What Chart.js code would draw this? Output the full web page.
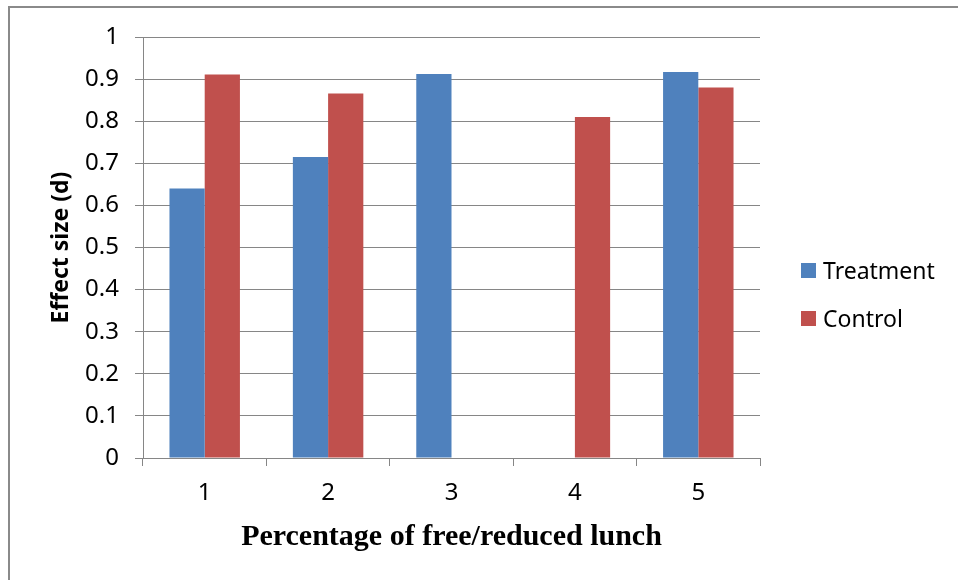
<!DOCTYPE html>
<html>
<head>
<meta charset="utf-8">
<script src="https://cdn.jsdelivr.net/npm/chart.js@4.4.1/dist/chart.umd.min.js"></script>
<style>
  html, body { margin: 0; padding: 0; background: #fff; overflow: hidden; }
  #wrap { position: relative; width: 958px; height: 580px; }
  #frame {
    position: absolute; left: 8px; top: 6px; width: 1000px; height: 1000px;
    border: 2px solid #8a8a8a; pointer-events: none;
  }
  #legend {
    position: absolute; left: 801px; top: 256px;
    font-family: 'Noto Sans', sans-serif; font-size: 23px; color: #000;
  }
  #legend .item { display: flex; align-items: center; height: 28px; margin-bottom: 20px; }
  #legend .box { width: 15px; height: 15px; margin-right: 7px; }
</style>
</head>
<body>
<div id="wrap">
  <canvas id="chart" width="958" height="580"></canvas>
  <div id="legend"></div>
  <div id="frame"></div>
</div>
<script>
// Chart data
const categories = ['1', '2', '3', '4', '5'];
const treatmentValues = [0.64, 0.715, 0.912, null, 0.917];
const controlValues = [0.911, 0.866, null, 0.81, 0.88];

const yTicksMin = 0;
const yTicksMax = 1;
const yTicksStep = 0.1;

const gridColor = '#868686';
const tickFont = { family: "'Noto Sans', sans-serif", size: 24 };

const chart = new Chart(document.getElementById('chart').getContext('2d'), {
    type: 'bar',
    data: {
        labels: categories,
        datasets: [
            {
                label: 'Treatment',
                data: treatmentValues,
                backgroundColor: '#4F81BD',
                barPercentage: 1,
                categoryPercentage: 0.571
            },
            {
                label: 'Control',
                data: controlValues,
                backgroundColor: '#C0504D',
                barPercentage: 1,
                categoryPercentage: 0.571
            }
        ]
    },
    options: {
        responsive: false,
        animation: false,
        layout: { padding: { left: 0, top: 37, right: 198, bottom: 0 } },
        plugins: {
            tooltip: { enabled: false },
            legend: { display: false }
        },
        scales: {
            x: {
                grid: {
                    offset: true,
                    drawOnChartArea: false,
                    tickLength: 8,
                    color: gridColor
                },
                border: { color: gridColor, width: 1 },
                ticks: { color: '#000', font: tickFont, padding: 13 },
                title: {
                    display: true,
                    text: 'Percentage of free/reduced lunch',
                    color: '#000',
                    font: { family: "'Liberation Serif', 'Times New Roman', serif", size: 30, weight: 'bold' },
                    padding: { top: 0, bottom: 25 }
                },
                afterFit: scale => { scale.height = 122; }
            },
            y: {
                min: yTicksMin,
                max: yTicksMax,
                ticks: {
                    stepSize: yTicksStep,
                    color: '#000',
                    font: tickFont,
                    padding: 16,
                    callback: v => String(+v.toFixed(1))
                },
                grid: { color: gridColor, tickLength: 8 },
                border: { color: gridColor, width: 1 },
                title: {
                    display: true,
                    text: 'Effect size (d)',
                    color: '#000',
                    font: { family: "'Noto Sans', sans-serif", size: 23, weight: 'bold' },
                    padding: { top: 48, bottom: 0 }
                },
                afterFit: scale => { scale.width = 143; }
            }
        }
    }
});

// Legend on the right, built from the datasets
const legendEl = document.getElementById('legend');
chart.data.datasets.forEach(ds => {
    const item = document.createElement('div');
    item.className = 'item';
    item.innerHTML = `<span class="box" style="background:${ds.backgroundColor}"></span><span>${ds.label}</span>`;
    legendEl.appendChild(item);
});
</script>
</body>
</html>
